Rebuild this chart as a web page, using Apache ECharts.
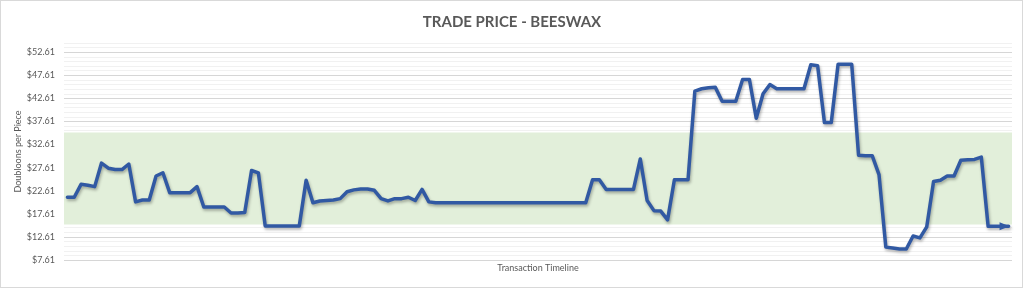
<!DOCTYPE html>
<html><head><meta charset="utf-8">
<script src="https://cdn.jsdelivr.net/npm/echarts@6/dist/echarts.min.js"></script>
<style>
html,body{margin:0;padding:0;background:#fff;}
#wrap{position:relative;width:1024px;height:288px;}
#chart{width:1024px;height:288px;}
#frame{position:absolute;left:0;top:0;width:1023px;height:288px;box-sizing:border-box;border:1px solid #d9d9d9;pointer-events:none;}
</style></head><body>
<div id="wrap"><div id="chart"></div><div id="frame"></div></div>
<script>
const chartTitle = 'TRADE PRICE - BEESWAX';
const yAxisTitle = 'Doubloons per Piece';
const xAxisTitle = 'Transaction Timeline';

// trade price per transaction
const prices = [
  21.2, 21.2, 24.0, 23.8, 23.5, 28.6, 27.5, 27.2, 27.2, 28.4,
  20.2, 20.6, 20.6, 25.8, 26.5, 22.2, 22.2, 22.2, 22.2, 23.5,
  19.1, 19.1, 19.1, 19.1, 17.8, 17.8, 17.9, 27.0, 26.5, 15.0,
  15.0, 15.0, 15.0, 15.0, 15.0, 24.9, 20.0, 20.4, 20.5, 20.6,
  20.9, 22.4, 22.8, 23.0, 23.0, 22.7, 20.9, 20.4, 20.9, 20.9,
  21.2, 20.5, 22.9, 20.2, 20.0, 20.0, 20.0, 20.0, 20.0, 20.0,
  20.0, 20.0, 20.0, 20.0, 20.0, 20.0, 20.0, 20.0, 20.0, 20.0,
  20.0, 20.0, 20.0, 20.0, 20.0, 20.0, 20.0, 25.0, 25.0, 22.9,
  22.9, 22.9, 22.9, 22.9, 29.5, 20.5, 18.3, 18.2, 16.3, 25.0,
  25.0, 25.0, 44.2, 44.7, 44.9, 45.0, 42.0, 42.0, 42.0, 46.7,
  46.7, 38.3, 43.6, 45.6, 44.7, 44.7, 44.7, 44.7, 44.7, 49.9,
  49.7, 37.4, 37.4, 50.0, 50.0, 50.0, 30.3, 30.2, 30.2, 26.1,
  10.4, 10.2, 10.0, 10.0, 12.8, 12.4, 14.8, 24.6, 24.9, 25.8,
  25.8, 29.2, 29.3, 29.4, 29.9, 14.9, 14.9, 14.9, 14.9
];
const categories = prices.map((_, i) => String(i + 1));

// y axis tick values (labels) and range
const yTickValues = [7.61, 12.61, 17.61, 22.61, 27.61, 32.61, 37.61, 42.61, 47.61, 52.61];
const yRange = [7.61, 54.61];
// shaded target band
const targetBand = [15.3, 35.2];

const minorValues = [];
for (let v = yRange[0] + 1; v <= yRange[1] + 1e-6; v += 1) minorValues.push(Math.round(v * 100) / 100);

const FONT = 'Lato, "Open Sans", sans-serif';
const TXT = '#595959';
const LINE = '#3159a3';

const lastIdx = prices.length - 1;
const seriesData = prices.map((v, i) => i === lastIdx ? {
  value: v, symbol: 'triangle', symbolSize: [8, 10], symbolRotate: -90, symbolOffset: [-4, 0],
  itemStyle: { color: LINE }
} : v);

const chart = echarts.init(document.getElementById('chart'), null, { renderer: 'canvas' });
chart.setOption({
  animation: false,
  backgroundColor: '#ffffff',
  title: {
    text: chartTitle, left: 'center', top: 10,
    textStyle: { fontFamily: FONT, fontSize: 15, fontWeight: 'bold', color: TXT }
  },
  grid: { left: 64, right: 12, top: 43, bottom: 28 },
  xAxis: {
    type: 'category', data: categories, boundaryGap: true,
    axisLine: { show: false }, axisTick: { show: false }, axisLabel: { show: false },
    splitLine: { show: false },
    name: xAxisTitle, nameLocation: 'middle', nameGap: 4,
    nameTextStyle: { fontFamily: FONT, fontSize: 9, color: TXT }
  },
  yAxis: [
    {
      type: 'value', min: yRange[0], max: yRange[1],
      axisLine: { show: false },
      axisTick: { show: false, customValues: yTickValues },
      axisLabel: {
        customValues: yTickValues, margin: 9,
        fontFamily: FONT, fontSize: 9, color: TXT,
        formatter: v => '$' + v.toFixed(2)
      },
      splitLine: { show: true, lineStyle: { color: '#d6d6d6', width: 1 } },
      name: yAxisTitle, nameLocation: 'middle', nameRotate: 90, nameGap: 41,
      nameMoveOverlap: false,
      nameTextStyle: { fontFamily: FONT, fontSize: 9, color: TXT },
      z: 1
    },
    {
      type: 'value', min: yRange[0], max: yRange[1],
      axisLine: { show: false },
      axisTick: { show: false, customValues: minorValues },
      axisLabel: { show: false, customValues: minorValues },
      splitLine: { show: true, lineStyle: { color: '#f1f1f1', width: 1 } },
      z: 0
    }
  ],
  series: [{
    type: 'line', yAxisIndex: 0, data: seriesData,
    symbol: 'none', showAllSymbol: true,
    lineStyle: {
      color: LINE, width: 3.5, join: 'round', cap: 'round',
      shadowColor: 'rgba(0,0,0,0.3)', shadowBlur: 3, shadowOffsetX: 1, shadowOffsetY: 2
    },
    itemStyle: { color: LINE },
    z: 3,
    markArea: {
      silent: true,
      itemStyle: { color: '#e2efda', opacity: 1 },
      data: [[{ yAxis: targetBand[0] }, { yAxis: targetBand[1] }]]
    }
  }]
});
</script>
</body></html>
